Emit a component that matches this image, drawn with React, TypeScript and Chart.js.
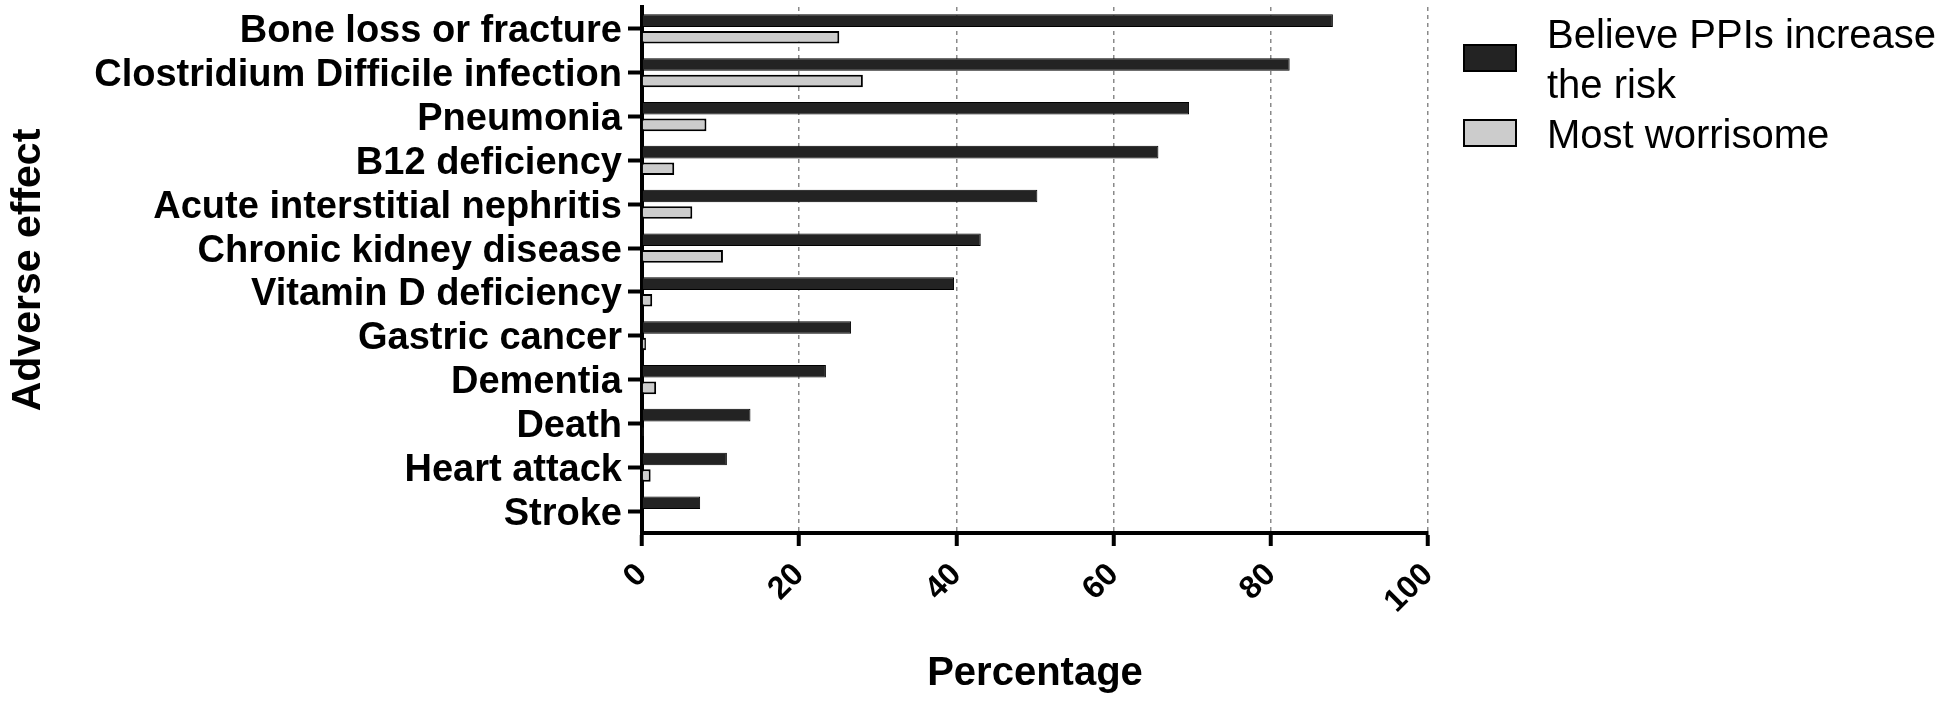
import React, { useEffect, useRef } from 'react';
import { Chart, registerables } from 'chart.js';

Chart.register(...registerables);

const categories = [
  'Bone loss or fracture',
  'Clostridium Difficile infection',
  'Pneumonia',
  'B12 deficiency',
  'Acute interstitial nephritis',
  'Chronic kidney disease',
  'Vitamin D deficiency',
  'Gastric cancer',
  'Dementia',
  'Death',
  'Heart attack',
  'Stroke',
];
const believeIncreaseRisk = [87.9, 82.4, 69.6, 65.7, 50.3, 43.1, 39.7, 26.6, 23.4, 13.8, 10.8, 7.4];
const mostWorrisome = [25.1, 28.1, 8.2, 4.1, 6.4, 10.3, 1.3, 0.5, 1.8, 0.2, 1.1, 0];
const seriesNames = ['Believe PPIs increase the risk', 'Most worrisome'];
const xTicks = [0, 20, 40, 60, 80, 100];
const xTitle = 'Percentage';
const yTitle = 'Adverse effect';

const FAMILY = "'Liberation Sans', Arial, Helvetica, sans-serif";

const sideLegend = {
  id: 'sideLegend',
  afterDraw(chart: any) {
    const ctx = chart.ctx;
    const area = chart.chartArea;
    const boxX = area.right + 35;
    const boxW = 54;
    const boxH = 28;
    const textX = boxX + 84;
    const lineH = 50;
    const maxW = 400;
    ctx.save();
    ctx.font = `normal 40px ${FAMILY}`;
    ctx.textBaseline = 'alphabetic';
    ctx.textAlign = 'left';
    let baseline = 48;
    chart.data.datasets.forEach((ds: any) => {
      const words = String(ds.label).split(' ');
      const lines: string[] = [];
      let cur = '';
      words.forEach((w) => {
        const test = cur ? cur + ' ' + w : w;
        if (ctx.measureText(test).width > maxW && cur) {
          lines.push(cur);
          cur = w;
        } else {
          cur = test;
        }
      });
      if (cur) lines.push(cur);
      const firstCenter = baseline - 14;
      const lastCenter = baseline + (lines.length - 1) * lineH - 14;
      const boxCenter = (firstCenter + lastCenter) / 2 - 1;
      ctx.fillStyle = ds.backgroundColor;
      ctx.fillRect(boxX, boxCenter - boxH / 2, boxW, boxH);
      ctx.lineWidth = 2;
      ctx.strokeStyle = '#000';
      ctx.strokeRect(boxX + 1, boxCenter - boxH / 2 + 1, boxW - 2, boxH - 2);
      ctx.fillStyle = '#000';
      lines.forEach((ln, i) => {
        ctx.fillText(ln, textX, baseline + i * lineH);
      });
      baseline += lines.length * lineH;
    });
    ctx.restore();
  },
};

export default function App() {
  const canvasRef = useRef<HTMLCanvasElement | null>(null);

  useEffect(() => {
    const canvas = canvasRef.current;
    if (!canvas) return;
    const chart = new Chart(canvas, {
      type: 'bar',
      data: {
        labels: categories,
        datasets: [
          {
            label: seriesNames[0],
            data: believeIncreaseRisk,
            backgroundColor: '#232323',
            borderColor: '#000000',
            borderWidth: 1,
            categoryPercentage: 0.757,
            barPercentage: 0.76,
          },
          {
            label: seriesNames[1],
            data: mostWorrisome,
            backgroundColor: '#cccccc',
            borderColor: '#000000',
            borderWidth: 2,
            categoryPercentage: 0.757,
            barPercentage: 0.76,
          },
        ],
      },
      options: {
        indexAxis: 'y',
        responsive: false,
        animation: false,
        devicePixelRatio: 1,
        layout: { padding: { top: 7, right: 522, left: 0, bottom: 0 } },
        plugins: {
          legend: { display: false },
          tooltip: { enabled: false },
        },
        scales: {
          x: {
            type: 'linear',
            min: 0,
            max: 100,
            afterBuildTicks: (s: any) => {
              s.ticks = xTicks.map((v) => ({ value: v }));
            },
            grid: {
              color: (c: any) => (c.tick && c.tick.value === 0 ? 'rgba(0,0,0,0)' : '#8a8a8a'),
              lineWidth: 1.5,
              drawTicks: true,
              tickLength: 13,
              tickWidth: 4,
              tickColor: '#000',
              tickBorderDash: [],
            },
            border: { display: true, color: '#000', width: 4, dash: [4, 4] },
            ticks: {
              color: '#000',
              font: { family: FAMILY, size: 32, weight: 'bold' },
              minRotation: 45,
              maxRotation: 45,
              padding: 10,
            },
            title: {
              display: true,
              text: xTitle,
              color: '#000',
              font: { family: FAMILY, size: 40, weight: 'bold' },
              padding: { top: 0, bottom: 5 },
            },
            afterFit: (s: any) => {
              s.height = 170;
              s.paddingLeft = 0;
              s.paddingRight = 0;
            },
          },
          y: {
            type: 'category',
            offset: true,
            grid: {
              offset: false,
              drawOnChartArea: false,
              drawTicks: true,
              tickLength: 14,
              tickWidth: 4,
              tickColor: '#000',
            },
            border: { display: true, color: '#000', width: 4 },
            ticks: {
              color: '#000',
              font: { family: FAMILY, size: 38, weight: 'bold' },
              padding: 6,
              labelOffset: 3,
              autoSkip: false,
            },
            title: {
              display: true,
              text: yTitle,
              color: '#000',
              font: { family: FAMILY, size: 41, weight: 'bold' },
              padding: { top: 4, bottom: 0 },
            },
            afterFit: (s: any) => {
              s.width = 642;
              s.paddingTop = 0;
              s.paddingBottom = 0;
            },
          },
        },
      } as any,
      plugins: [sideLegend],
    });
    return () => chart.destroy();
  }, []);

  return (
    <div style={{ position: 'fixed', left: 0, top: 0, width: 1950, height: 703, background: '#fff' }}>
      <canvas ref={canvasRef} width={1950} height={703} style={{ width: 1950, height: 703, display: 'block' }} />
    </div>
  );
}
